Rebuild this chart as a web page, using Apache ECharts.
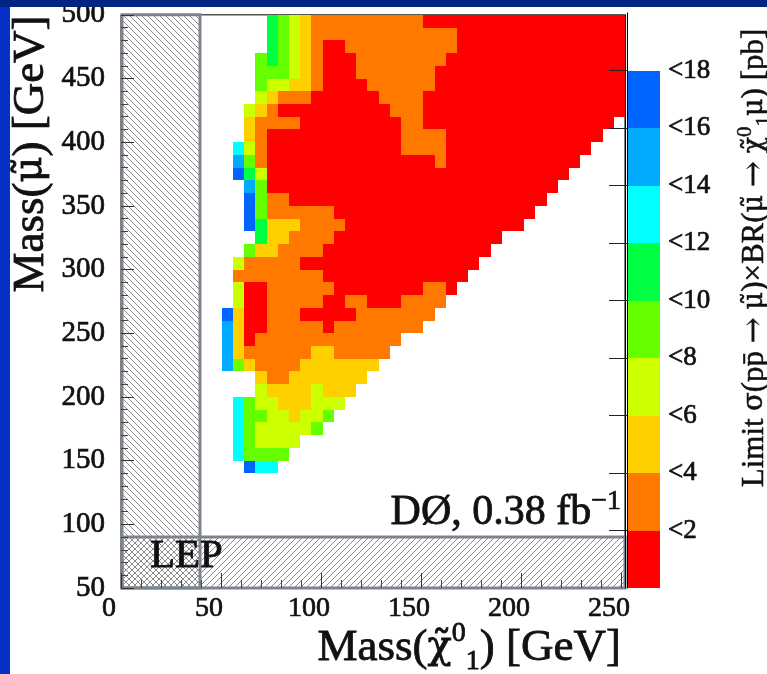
<!DOCTYPE html>
<html>
<head>
<meta charset="utf-8">
<script src="https://cdn.jsdelivr.net/npm/echarts@6/dist/echarts.min.js"></script>
<style>
  html, body { margin: 0; padding: 0; background: #ffffff; }
  #chart { width: 767px; height: 674px; }
</style>
</head>
<body>
<div id="chart"></div>
<script>
// ---- cross-section limit contour levels (pb) ----
const levelBounds = [0, 2, 4, 6, 8, 10, 12, 14, 16, 18];
const levelColors = ['#ff0000', '#ff7800', '#ffd000', '#ccff00', '#66ff00',
                     '#00ff40', '#00ffff', '#00aaff', '#0064ff'];
const paletteTicks = [2, 4, 6, 8, 10, 12, 14, 16, 18];

// ---- binning of the scan ----
const neutralinoRange = [0, 252];   // GeV
const smuonRange = [50, 500];       // GeV
const neutralinoBin = 5.6;          // GeV
const smuonBin = 10;                // GeV
const neutralinoTicks = [0, 50, 100, 150, 200, 250];
const smuonTicks = [50, 100, 150, 200, 250, 300, 350, 400, 450, 500];

// ---- regions excluded elsewhere: [mChi lo, mChi hi, mSmuon lo, mSmuon hi, hatch] ----
const excludedRegions = [
  [0, 39.5, 50, 500, 'back'],
  [0, 252, 50, 90, 'fwd']
];

// ---- limit level per cell, one row per smuon bin from 490-500 GeV downward.
// Each row: [first neutralino bin, runs], run = "level" or "level*count"
// (level 1 = "<2 pb" ... level 9 = "<18 pb")
const limitRows = [
  [13, '6 5 4 3 2*10 1*18'],
  [13, '6 5 4 3 2*13 1*15'],
  [13, '6 5 4 3 2 1*2 2*10 1*15'],
  [12, '5 6 5 4 3 2 1*3 2*8 1*16'],
  [12, '5 5 5 4 3 2 1*3 2*7 1*17'],
  [12, '5 4 4 3 3 2 1*4 2*6 1*17'],
  [12, '4 3 2*3 1*6 2*4 1*18'],
  [11, '4 3 2 1*10 2*3 1*18'],
  [11, '3 2*4 1*9 2*2 1*17'],
  [11, '3 2 1*12 2*4 1*14'],
  [10, '7 4 2 1*12 2*4 1*13'],
  [10, '8 5 2 1*15 2 1*12'],
  [10, '9 6 4 1*27'],
  [11, '8 5 1*26'],
  [11, '9 5 2*2 1*23'],
  [11, '9 5 2*6 1*18'],
  [11, '9 6 3*3 2*4 1*16'],
  [12, '6 3*2 2*4 1*15'],
  [11, '5 3*2 2*4 1*15'],
  [10, '4 2*5 1*16'],
  [10, '2*8 1*13'],
  [10, '4 1*2 2*6 1*8 2*2 1'],
  [10, '4 1*2 2*5 1*2 2*2 1*3 2*4'],
  [9,  '9 3 1*2 2*3 1*5 2*7'],
  [9,  '8 3 1*2 2*5 1 2*8'],
  [9,  '8 3 1 2*13'],
  [9,  '8 3 2*6 3*2 2*5'],
  [9,  '8 5 3 2*4 3*7'],
  [12, '3 2*2 3*7'],
  [12, '4 3*4 4 3*3'],
  [10, '7 5 4*2 3*3 4*3'],
  [10, '7 5*2 4*2 3 4*2 5'],
  [10, '7 5 4*5 5'],
  [10, '7 5 4*4'],
  [10, '7 5*4'],
  [11, '9 7*2']
];

// expand the run-length rows into [mChi low edge, mSmuon low edge, level]
const cells = [];
limitRows.forEach(function (row, k) {
  const yLow = smuonRange[1] - (k + 1) * smuonBin;
  let col = row[0];
  row[1].split(' ').forEach(function (tok) {
    const parts = tok.split('*');
    const n = parts.length > 1 ? +parts[1] : 1;
    for (let c = 0; c < n; c++) {
      cells.push([col * neutralinoBin, yLow, +parts[0]]);
      col++;
    }
  });
});

const paletteCells = levelColors.map(function (c, i) {
  return [levelBounds[i], levelBounds[i + 1], i];
});

// hatch tiles for the excluded regions
function hatchTile(dir) {
  const s = 6;
  const cv = document.createElement('canvas');
  cv.width = s; cv.height = s;
  const g = cv.getContext('2d');
  g.strokeStyle = '#8c8c8c';
  g.lineWidth = 1;
  g.beginPath();
  if (dir === 'back') {
    g.moveTo(-1, -1); g.lineTo(s + 1, s + 1);
    g.moveTo(-1, s - 1); g.lineTo(1, s + 1);
    g.moveTo(s - 1, -1); g.lineTo(s + 1, 1);
  } else {
    g.moveTo(-1, s + 1); g.lineTo(s + 1, -1);
    g.moveTo(-1, 1); g.lineTo(1, -1);
    g.moveTo(s - 1, s + 1); g.lineTo(s + 1, s - 1);
  }
  g.stroke();
  return cv;
}
const hatchPatterns = { back: hatchTile('back'), fwd: hatchTile('fwd') };

const serif = 'Liberation Serif';
const greek = 'DejaVu Serif';
const ink = '#111';
const labelEdge = { textBorderColor: ink, textBorderWidth: 0.7 };

// text styles for graphic texts: a thin outline in the ink colour gives the heavier strokes
function inked(style, w) {
  return Object.assign({ fill: ink, stroke: ink, lineWidth: w }, style);
}
function richSet(size, smallSize, w) {
  return {
    g: inked({ fontFamily: greek, fontSize: Math.round(size * 0.88) }, w),
    arr: inked({ fontFamily: greek, fontSize: size }, w * 0.6),
    sup: inked({ fontFamily: serif, fontSize: smallSize, verticalAlign: 'top', lineHeight: smallSize }, w),
    sub: inked({ fontFamily: serif, fontSize: smallSize, verticalAlign: 'bottom', lineHeight: smallSize }, w)
  };
}

const chart = echarts.init(document.getElementById('chart'), null, { renderer: 'canvas' });

chart.setOption({
  animation: false,
  backgroundColor: '#ffffff',
  grid: [
    { left: 121, top: 13, width: 504, height: 575, show: true, borderColor: '#000', borderWidth: 1, backgroundColor: 'transparent' },
    { left: 627, top: 13, width: 33, height: 575, show: false }
  ],
  xAxis: [
    {
      gridIndex: 0, type: 'value', min: neutralinoRange[0], max: neutralinoRange[1], interval: 50,
      z: 6,
      axisLine: { show: false },
      axisTick: { show: true, inside: true, length: 15, customValues: neutralinoTicks, lineStyle: { color: '#333', width: 1 } },
      minorTick: { show: true, splitNumber: 5, length: 8, lineStyle: { color: '#444', width: 1 } },
      splitLine: { show: false },
      axisLabel: Object.assign({
        customValues: neutralinoTicks,
        fontFamily: serif, fontSize: 28, color: ink, margin: 7,
        padding: [0, 24, 0, 0]
      }, labelEdge)
    },
    { gridIndex: 1, type: 'value', min: 0, max: 1, show: false }
  ],
  yAxis: [
    {
      gridIndex: 0, type: 'value', min: smuonRange[0], max: smuonRange[1], interval: 50,
      z: 6,
      axisLine: { show: false },
      axisTick: { show: true, inside: true, length: 13, customValues: smuonTicks, lineStyle: { color: '#333', width: 1 } },
      minorTick: { show: true, splitNumber: 5, length: 7, lineStyle: { color: '#444', width: 1 } },
      splitLine: { show: false },
      axisLabel: Object.assign({
        customValues: smuonTicks,
        fontFamily: serif, fontSize: 29, color: ink, margin: 16,
        padding: [10, 0, 0, 0]
      }, labelEdge)
    },
    {
      gridIndex: 1, type: 'value', min: 0, max: 20, position: 'right',
      z: 6,
      axisLine: { show: true, lineStyle: { color: '#000', width: 1 } },
      axisTick: { show: true, inside: true, length: 18, customValues: paletteTicks, lineStyle: { color: '#222', width: 1 } },
      splitLine: { show: false },
      axisLabel: Object.assign({
        customValues: paletteTicks,
        formatter: function (v) { return '<' + v; },
        fontFamily: serif, fontSize: 27, color: ink, margin: 8,
        padding: [14, 0, 0, 0]
      }, labelEdge)
    },
    {
      gridIndex: 0, type: 'value', min: smuonRange[0], max: smuonRange[1], position: 'right',
      z: 6,
      axisLine: { show: true, lineStyle: { color: '#000', width: 1 } },
      axisTick: { show: false }, axisLabel: { show: false }, splitLine: { show: false }
    }
  ],
  series: [
    {
      type: 'custom',
      name: 'limit',
      xAxisIndex: 0, yAxisIndex: 0,
      z: 2,
      encode: { x: 0, y: 1 },
      data: cells,
      renderItem: function (params, api) {
        const x0 = api.value(0), y0 = api.value(1), lv = api.value(2);
        const a = api.coord([x0, y0 + smuonBin]);
        const b = api.coord([x0 + neutralinoBin, y0]);
        const x = Math.round(a[0]), y = Math.round(a[1]);
        return {
          type: 'rect',
          shape: { x: x, y: y, width: Math.round(b[0]) - x, height: Math.round(b[1]) - y },
          style: { fill: levelColors[lv - 1] }
        };
      }
    },
    {
      type: 'custom',
      name: 'excluded',
      xAxisIndex: 0, yAxisIndex: 0,
      z: 3,
      encode: { x: [0, 1], y: [2, 3] },
      data: excludedRegions,
      renderItem: function (params, api) {
        const a = api.coord([api.value(0), api.value(3)]);
        const b = api.coord([api.value(1), api.value(2)]);
        const kind = excludedRegions[params.dataIndex][4];
        const shape = { x: a[0] + 1, y: a[1], width: b[0] - a[0] - 1, height: b[1] - a[1] };
        return {
          type: 'group',
          children: [
            { type: 'rect', shape: shape, style: { fill: { image: hatchPatterns[kind], repeat: 'repeat' } } },
            { type: 'rect', shape: shape, style: { fill: 'none', stroke: '#7c858e', lineWidth: 3 } }
          ]
        };
      }
    },
    {
      type: 'custom',
      name: 'palette',
      xAxisIndex: 1, yAxisIndex: 1,
      z: 2,
      encode: { y: [0, 1] },
      data: paletteCells,
      renderItem: function (params, api) {
        const a = api.coord([0, api.value(1)]);
        const b = api.coord([1, api.value(0)]);
        const y = Math.round(a[1]);
        return {
          type: 'rect',
          shape: { x: a[0], y: y, width: b[0] - a[0], height: Math.round(b[1]) - y },
          style: { fill: levelColors[api.value(2)] }
        };
      }
    }
  ],
  graphic: [
    { type: 'rect', z: 20, shape: { x: 0, y: 0, width: 10, height: 674 }, style: { fill: '#0531c6' } },
    { type: 'rect', z: 20, shape: { x: 0, y: 0, width: 767, height: 7 }, style: { fill: '#022482' } },
    {
      type: 'text', z: 10, x: 31, y: 154, rotation: Math.PI / 2,
      style: inked({
        text: 'Mass({g|\u03bc\u0303}) [GeV]', fontFamily: serif, fontSize: 45,
        align: 'center', verticalAlign: 'middle', lineHeight: 56,
        rich: richSet(45, 28, 0.8)
      }, 0.8)
    },
    {
      type: 'text', z: 10, x: 621, y: 648,
      style: inked({
        text: 'Mass({g|\u03c7\u0303}{sup|0}{sub|1}) [GeV]', fontFamily: serif, fontSize: 45,
        align: 'right', verticalAlign: 'middle', lineHeight: 56,
        rich: richSet(45, 28, 0.8)
      }, 0.8)
    },
    {
      type: 'text', z: 10, x: 755, y: 258, rotation: Math.PI / 2,
      style: inked({
        text: 'Limit {g|\u03c3}(pp\u0304 {arr|\u2192} {g|\u03bc\u0303})\u00d7BR({g|\u03bc\u0303} {arr|\u2192} {g|\u03c7\u0303}{sup|0}{sub|1}{g|\u03bc}) [pb]',
        fontFamily: serif, fontSize: 31,
        align: 'center', verticalAlign: 'middle', lineHeight: 40,
        rich: richSet(31, 21, 0.5)
      }, 0.5)
    },
    {
      type: 'text', z: 10, x: 621, y: 513,
      style: inked({
        text: 'D\u00d8, 0.38 fb{sup|\u22121}', fontFamily: serif, fontSize: 42,
        align: 'right', verticalAlign: 'middle', lineHeight: 50,
        rich: {
          sup: inked({ fontFamily: serif, fontSize: 28, verticalAlign: 'top', lineHeight: 28 }, 0.7)
        }
      }, 0.8)
    },
    {
      type: 'text', z: 10, x: 150, y: 556,
      style: inked({
        text: 'LEP', fontFamily: serif, fontSize: 41,
        align: 'left', verticalAlign: 'middle'
      }, 0.8)
    }
  ]
});
</script>
</body>
</html>
